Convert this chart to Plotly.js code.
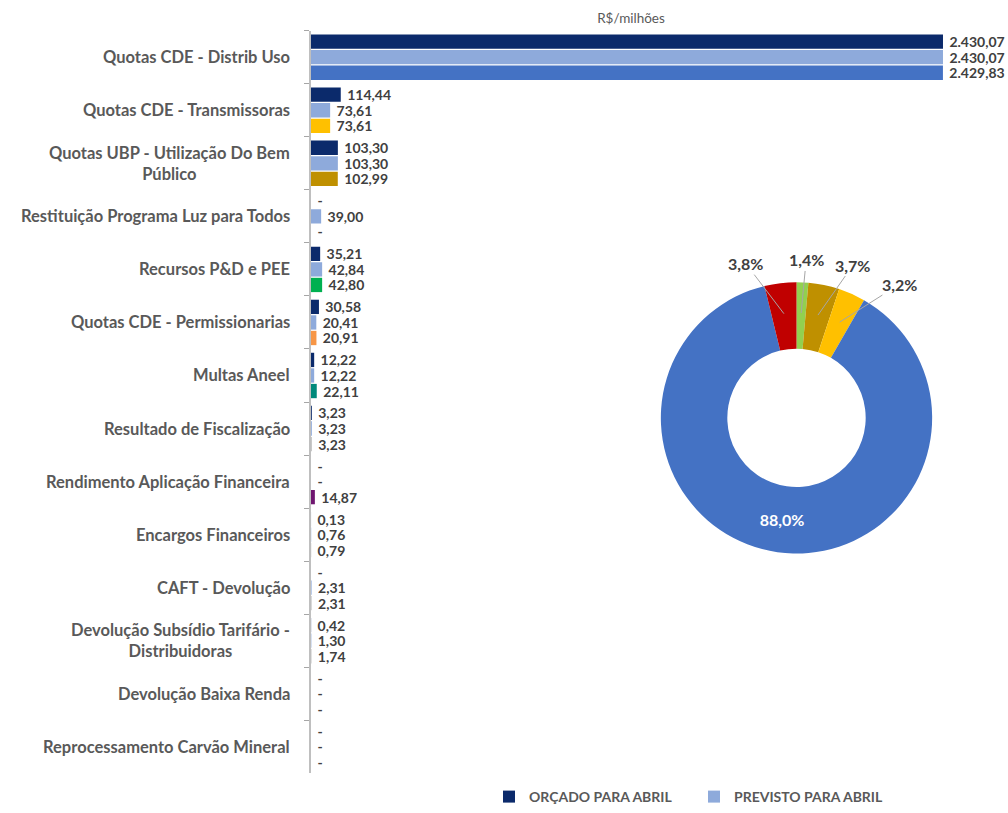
<!DOCTYPE html>
<html>
<head>
<meta charset="utf-8">
<script src="https://cdn.plot.ly/plotly-3.0.1.min.js"></script>
<style>html,body{margin:0;padding:0;background:#fff;}#chart{width:1008px;height:813px;}</style>
</head>
<body>
<div id="chart"></div>
<script>
// ---- data ----
const categories = [
  "Quotas CDE - Distrib Uso",
  "Quotas CDE - Transmissoras",
  "Quotas UBP - Utilização Do Bem<br>Público",
  "Restituição Programa Luz para Todos",
  "Recursos P&D e PEE",
  "Quotas CDE - Permissionarias",
  "Multas Aneel",
  "Resultado de Fiscalização",
  "Rendimento Aplicação Financeira",
  "Encargos Financeiros",
  "CAFT - Devolução",
  "Devolução Subsídio Tarifário -<br>Distribuidoras",
  "Devolução Baixa Renda",
  "Reprocessamento Carvão Mineral"
];
const orcado   = [2430.07, 114.44, 103.30, 0, 35.21, 30.58, 12.22, 3.23, 0, 0.13, 0, 0.42, 0, 0];
const previsto = [2430.07, 73.61, 103.30, 39.00, 42.84, 20.41, 12.22, 3.23, 0, 0.76, 2.31, 1.30, 0, 0];
const realizado = [2429.83, 73.61, 102.99, 0, 42.80, 20.91, 22.11, 3.23, 14.87, 0.79, 2.31, 1.74, 0, 0];
const realizadoColors = ["#4472C4", "#FFC000", "#BF9000", "#BFBFBF", "#00B050", "#F79646", "#00897B",
                         "#BFBFBF", "#6F1670", "#BFBFBF", "#BFBFBF", "#BFBFBF", "#BFBFBF", "#BFBFBF"];
const seriesNames = ["ORÇADO PARA ABRIL", "PREVISTO PARA ABRIL", "REALIZADO"];

const pieLabels = ["Recursos P&D e PEE", "Quotas UBP", "Quotas CDE - Transmissoras", "Quotas CDE - Distrib Uso", "Outros"];
const pieValues = [1.4, 3.7, 3.2, 88.0, 3.8];
const pieColors = ["#92D050", "#BF9000", "#FFC000", "#4472C4", "#C00000"];

// ---- helpers ----
function fmt(v) {
  if (v === 0) return "\u00a0-";
  const parts = v.toFixed(2).split(".");
  parts[0] = parts[0].replace(/\B(?=(\d{3})+(?!\d))/g, ".");
  return "\u00a0" + parts[0] + "," + parts[1];
}
const W = 1008, H = 813;
const px = x => x / W;
const py = y => 1 - y / H;

const FONT = "Lato, 'Open Sans', sans-serif";
const textFont = {family: FONT, size: 14, color: "#404040", weight: 700};

function barTrace(vals, name, color, showlegend) {
  return {
    type: "bar", orientation: "h",
    y: categories, x: vals, name: name,
    marker: {color: color},
    text: vals.map(fmt), textposition: "outside", cliponaxis: false,
    constraintext: "none",
    textfont: textFont,
    showlegend: showlegend,
    hoverinfo: "x+y+name"
  };
}

const traces = [
  barTrace(orcado, seriesNames[0], "#0B2A6B", true),
  barTrace(previsto, seriesNames[1], "#8EAADB", true),
  barTrace(realizado, seriesNames[2], realizadoColors, false)
];

// pie
const pieCx = 796.5, pieCy = 422, pieR = 137;
traces.push({
  type: "pie", labels: pieLabels, values: pieValues,
  marker: {colors: pieColors, line: {color: "#ffffff", width: 0}},
  hole: 0.51, sort: false, direction: "clockwise", rotation: 0,
  texttemplate: pieValues.map((v, i) => i === 3 ? (v.toFixed(1).replace(".", ",") + "%") : ""),
  textposition: "inside", insidetextorientation: "horizontal",
  insidetextfont: {family: FONT, size: 16, color: "#ffffff", weight: 700},
  domain: {x: [px(pieCx - pieR), px(pieCx + pieR)], y: [py(pieCy + pieR), py(pieCy - pieR)]},
  showlegend: false, hoverinfo: "label+value"
});

// annotations: category labels
const annotations = categories.map(c => ({
  text: c, xref: "paper", yref: "y", x: px(292), y: c,
  xanchor: "right", yanchor: "middle", align: "center", showarrow: false,
  font: {family: FONT, size: 16.5, color: "#595959", weight: 700}
}));

// pie outside labels with leader lines (head at slice mid-angle)
const total = pieValues.reduce((a, b) => a + b, 0);
const offsets = {0: [5, -53], 1: [35, -50], 2: [60, -38], 4: [-38, -50]};
let cum = 0;
pieValues.forEach((v, i) => {
  const a0 = cum / total * 360, a1 = (cum + v) / total * 360;
  cum += v;
  if (!(i in offsets)) return;
  const mid = (a0 + a1) / 2 * Math.PI / 180;
  const hx = pieCx + 106 * Math.sin(mid), hy = pieCy - 106 * Math.cos(mid);
  annotations.push({
    text: v.toFixed(1).replace(".", ",") + "%",
    xref: "paper", yref: "paper", x: px(hx), y: py(hy),
    ax: offsets[i][0], ay: offsets[i][1], axref: "pixel", ayref: "pixel",
    showarrow: true, arrowhead: 0, arrowwidth: 1, arrowcolor: "#A6A6A6", standoff: 0,
    font: {family: FONT, size: 16, color: "#404040", weight: 700}
  });
});

const layout = {
  width: W, height: H,
  margin: {l: 0, r: 0, t: 0, b: 0},
  paper_bgcolor: "#ffffff", plot_bgcolor: "#ffffff",
  separators: ",.",
  barmode: "group", bargap: 0.12, bargroupgap: 0.08,
  title: {text: "R$/milhões", x: px(631), y: py(18), xanchor: "center", yanchor: "middle",
          font: {family: FONT, size: 13.5, color: "#595959"}},
  xaxis: {domain: [px(311), px(1003)], range: [0, 2660.8], visible: false, fixedrange: true},
  yaxis: {domain: [py(781), py(31)], autorange: "reversed", type: "category",
          showticklabels: false, tickson: "boundaries", ticks: "outside", ticklen: 5,
          tickcolor: "#A6A6A6", showline: true, linecolor: "#BFBFBF", linewidth: 2,
          showgrid: false, zeroline: false},
  showlegend: true,
  legend: {orientation: "h", x: px(489), y: py(805), xanchor: "left", yanchor: "middle",
           font: {family: FONT, size: 14, color: "#595959", weight: 700},
           itemwidth: 30, tracegroupgap: 0, entrywidth: 160, entrywidthmode: "pixels"},
  annotations: annotations
};

Plotly.newPlot("chart", traces, layout, {displayModeBar: false, staticPlot: true});
</script>
</body>
</html>
